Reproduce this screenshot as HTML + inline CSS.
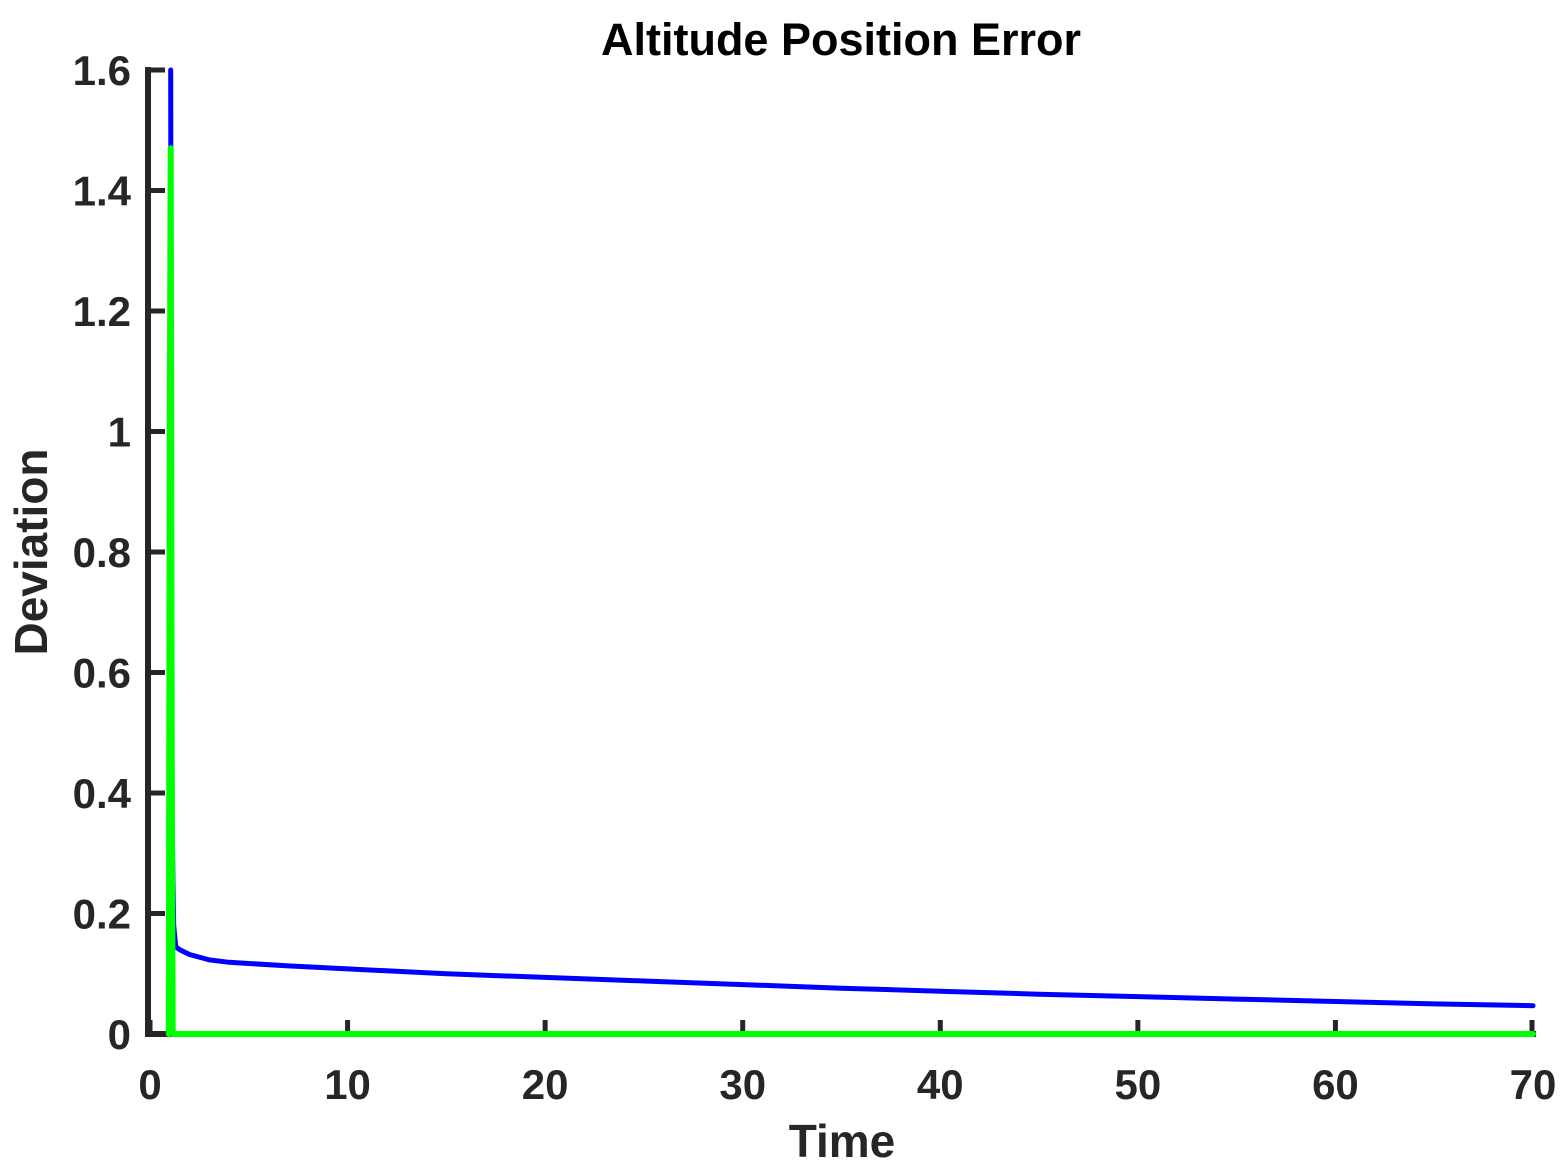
<!DOCTYPE html>
<html><head><meta charset="utf-8"><style>
html,body{margin:0;padding:0;background:#fff;width:1561px;height:1170px;overflow:hidden}
svg text{font-family:"Liberation Sans",Arial,sans-serif;font-weight:bold;fill:#262626}
</style></head><body>
<svg id="chart" width="1561" height="1170" viewBox="0 0 1561 1170" xmlns="http://www.w3.org/2000/svg">
<g id="axes"></g>
<g id="series"></g>
<text x="841" y="55" text-anchor="middle" font-size="45" style="fill:#000">Altitude Position Error</text>
<text x="842" y="1157" text-anchor="middle" font-size="46">Time</text>
<text transform="translate(47,552) rotate(-90)" text-anchor="middle" font-size="46">Deviation</text>
</svg>
<script>
const xTicks=[0,10,20,30,40,50,60,70];
const yTicks=[0,0.2,0.4,0.6,0.8,1,1.2,1.4,1.6];
const yTickLabels=["0","0.2","0.4","0.6","0.8","1","1.2","1.4","1.6"];
const blueT=[1.05,1.08,1.12,1.2,1.3,1.5,2,3,4,5,7,10,15,20,25,30,35,40,45,50,55,60,65,70];
const blueV=[1.6,0.8,0.35,0.18,0.145,0.14,0.132,0.123,0.119,0.117,0.113,0.108,0.1,0.094,0.088,0.082,0.076,0.071,0.066,0.062,0.058,0.054,0.05,0.047];
const greenT=[0.95,1.0,1.05,1.1,1.15,70];
const greenV=[0,1.0,1.47,0.5,0,0];
const redT=[1.3,70];
const redV=[0,0];
const X0=150,X1=1533,Y0=1034,Y1=70;
const sx=t=>X0+(X1-X0)*t/70;
const sy=v=>Y0-(Y0-Y1)*v/1.6;
const NS="http://www.w3.org/2000/svg";
const ax=document.getElementById('axes'),se=document.getElementById('series');
function mk(tag,at,par){const e=document.createElementNS(NS,tag);for(const k in at)e.setAttribute(k,at[k]);par.appendChild(e);return e;}
let yl=mk('line',{x1:148,y1:67,x2:148,y2:1036,stroke:'#262626','stroke-width':6},ax);


let xl=mk('line',{x1:145,y1:1034,x2:1536,y2:1034,stroke:'#262626','stroke-width':6},ax);


xTicks.forEach(t=>{
 const x=t===70?sx(t)-1:sx(t);
 const tk=mk('line',{x1:x,y1:1034,x2:x,y2:1020,stroke:'#262626','stroke-width':5},ax);
 
 
 const lb=mk('text',{x:sx(t),y:1099,'text-anchor':'middle','font-size':'42'},ax);
 lb.textContent=String(t);
 
 
});
yTicks.forEach((v,i)=>{
 const tk=mk('line',{x1:148,y1:sy(v),x2:165,y2:sy(v),stroke:'#262626','stroke-width':5},ax);
 
 
 const lb=mk('text',{x:131,y:sy(v)+15,'text-anchor':'end','font-size':'42'},ax);
 lb.textContent=yTickLabels[i];
 
 
});
function line(T,V,col,name,w){
 const d=T.map((t,i)=>(i?'L':'M')+sx(t).toFixed(1)+','+sy(V[i]).toFixed(1)).join('');
 const p=mk('path',{d:d,fill:'none',stroke:col,'stroke-width':w,'stroke-linejoin':'round','stroke-linecap':'round'},se);
 
 
}
line(redT,redV,'#ff0000','red-series-line',5);
line(blueT,blueV,'#0000ff','blue-series-line',5);
line(greenT,greenV,'#00ff00','green-series-line',6);
</script>
</body></html>
